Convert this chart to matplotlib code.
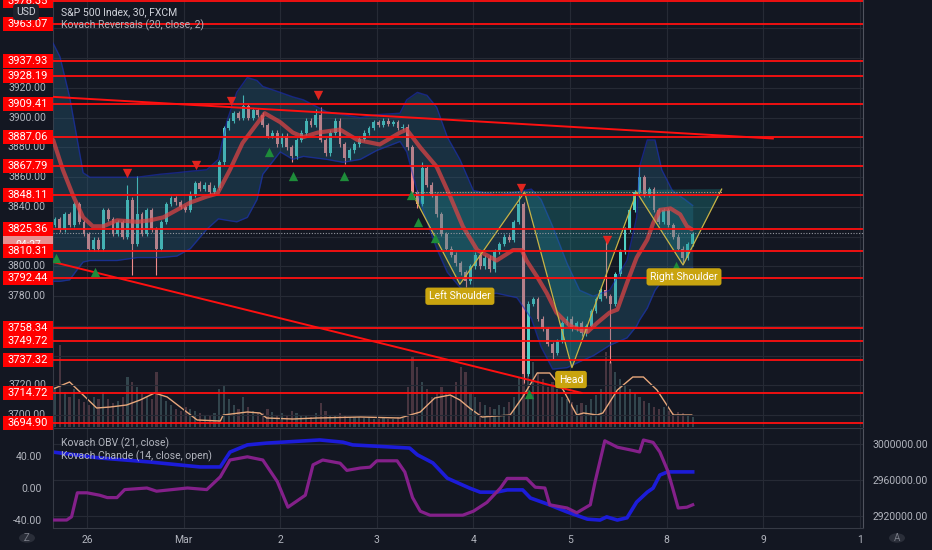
import numpy as np
import matplotlib

matplotlib.use("Agg")
import matplotlib.pyplot as plt
from matplotlib.patches import Rectangle, Circle
from matplotlib.transforms import blended_transform_factory

plt.rcParams["font.family"] = ["Roboto", "DejaVu Sans"]

# ---------------------------------------------------------------- data
# price bars: 20 bars per trading day, x in trading days (0 = Feb 26)
T0, DT = -0.331, 0.05
FIRST_OPEN = 3828
closes = [
    3832, 3825, 3835, 3828, 3842, 3830, 3822, 3812, 3818, 3812,
    3838, 3832, 3822, 3830, 3820, 3845, 3815, 3835, 3822, 3838,
    3825, 3812, 3830, 3842, 3846, 3843, 3840, 3838, 3848, 3856,
    3852, 3855, 3850, 3853, 3870, 3893, 3898, 3903, 3900, 3908,
    3900, 3905, 3902, 3895, 3888, 3890, 3882, 3888, 3880, 3874,
    3885, 3890, 3898, 3895, 3902, 3885, 3876, 3890, 3898, 3882,
    3873, 3878, 3882, 3886, 3890, 3893, 3897, 3895, 3898, 3896,
    3897, 3893, 3894, 3880, 3850, 3842, 3866, 3855, 3848, 3835,
    3822, 3812, 3808, 3802, 3796, 3790, 3800, 3808, 3800, 3806,
    3798, 3810, 3815, 3820, 3818, 3830, 3842, 3728, 3775, 3778,
    3765, 3758, 3748, 3742, 3750, 3762, 3765, 3758, 3762, 3755,
    3760, 3770, 3778, 3784, 3780, 3775, 3795, 3810, 3825, 3838,
    3850, 3860, 3848, 3852, 3838, 3830, 3838, 3828, 3820, 3812,
    3806, 3815, 3822,
]
wick_high = {15: 3855, 17: 3861, 28: 3851, 39: 3915, 54: 3906, 55: 3907,
             58: 3900, 76: 3870, 96: 3849, 114: 3818, 121: 3867}
wick_low = {16: 3794, 21: 3794, 49: 3870, 60: 3869, 75: 3839, 85: 3786,
            97: 3722, 103: 3738, 115: 3735, 130: 3802}
volume = [
    40, 82, 35, 30, 38, 28, 25, 22, 30, 28,
    35, 28, 24, 26, 30, 50, 45, 40, 34, 30,
    28, 55, 32, 26, 22, 18, 16, 20, 18, 16,
    14, 12, 12, 14, 38, 42, 28, 22, 18, 30,
    20, 16, 14, 14, 18, 15, 12, 14, 12, 16,
    14, 12, 12, 10, 14, 24, 16, 12, 12, 14,
    12, 10, 10, 10, 9, 10, 8, 8, 10, 8,
    8, 10, 9, 40, 70, 60, 45, 38, 30, 35,
    40, 35, 32, 45, 60, 55, 35, 30, 25, 22,
    20, 18, 22, 20, 25, 30, 50, 90, 80, 65,
    55, 48, 40, 45, 38, 30, 28, 25, 22, 24,
    22, 28, 32, 38, 75, 65, 55, 48, 42, 38,
    34, 30, 26, 24, 20, 18, 20, 16, 14, 15,
    14, 12, 10,
]
vol_ma_t = [-0.35, -0.28, -0.18, 0.10, 0.24, 0.41, 0.55, 0.70, 0.83, 1.14,
            1.38, 1.41, 1.66, 1.79, 1.86, 2.13, 2.38, 2.83, 3.24, 3.45,
            3.60, 3.76, 3.86, 3.96, 4.09, 4.38, 4.51, 4.66, 4.79, 4.93,
            5.07, 5.14, 5.28, 5.34, 5.49, 5.65, 5.76, 5.90, 6.07, 6.26]
vol_ma = [38, 41, 45, 19, 20, 22, 27, 34, 30, 7,
          6, 12, 15, 14, 9, 8, 9, 10, 9, 15,
          29, 32, 27, 19, 10, 12, 30, 54, 54, 37,
          12, 14, 12, 14, 37, 50, 50, 37, 12, 12]

ma_t = [-0.35, -0.25, -0.14, -0.04, 0.06, 0.17, 0.31, 0.52, 0.65, 0.79,
        0.93, 1.07, 1.24, 1.35, 1.48, 1.61, 1.76, 1.84, 2.00, 2.13,
        2.24, 2.39, 2.62, 2.80, 3.03, 3.24, 3.31, 3.45, 3.62, 3.76,
        3.89, 4.04, 4.24, 4.41, 4.50, 4.55, 4.66, 4.76, 4.86, 5.00,
        5.18, 5.28, 5.41, 5.49, 5.59, 5.69, 5.80, 5.86, 5.93, 6.04,
        6.14, 6.21, 6.26]
ma = [3885, 3865, 3847, 3833, 3827, 3827, 3831, 3830, 3831, 3833,
      3838, 3843, 3847, 3849, 3865, 3883, 3896, 3903, 3897, 3890,
      3887, 3890, 3892, 3885, 3882, 3890, 3892, 3880, 3867, 3847,
      3827, 3811, 3804, 3811, 3811, 3804, 3793, 3782, 3769, 3760,
      3756, 3762, 3769, 3771, 3789, 3806, 3818, 3829, 3838, 3839,
      3835, 3827, 3825]

band_t = [-0.35, -0.28, -0.18, -0.10, -0.04, 0.03, 0.31, 0.52, 0.76, 0.93,
          1.07, 1.24, 1.36, 1.45, 1.55, 1.66, 1.76, 1.82, 2.00, 2.13,
          2.24, 2.48, 2.65, 2.83, 3.00, 3.24, 3.31, 3.42, 3.52, 3.62,
          3.73, 3.86, 4.00, 4.24, 4.45, 4.60, 4.70, 4.82, 4.97, 5.10,
          5.24, 5.41, 5.59, 5.69, 5.72, 5.80, 5.88, 5.95, 6.06, 6.19,
          6.27]
band_up = [3950, 3941, 3914, 3885, 3863, 3860, 3860, 3860, 3862, 3863,
           3864, 3865, 3872, 3898, 3917, 3927, 3925, 3921, 3917, 3914,
           3912, 3904, 3902, 3900, 3902, 3903, 3912, 3917, 3915, 3907,
           3887, 3872, 3851, 3848, 3850, 3852, 3845, 3827, 3802, 3784,
           3780, 3784, 3804, 3833, 3867, 3885, 3885, 3865, 3851, 3845,
           3841]
band_lo = [3790, 3790, 3791, 3798, 3803, 3804, 3804, 3806, 3806, 3807,
           3812, 3825, 3832, 3831, 3830, 3833, 3845, 3862, 3877, 3872,
           3874, 3872, 3870, 3872, 3878, 3884, 3877, 3850, 3830, 3812,
           3796, 3786, 3781, 3782, 3779, 3765, 3746, 3731, 3732, 3736,
           3740, 3747, 3752, 3760, 3764, 3772, 3784, 3790, 3795, 3798,
           3799]

# Kovach Reversals markers
sell_t = [0.41, 1.13, 1.49, 2.39, 4.49, 5.38]
sell_p = [3863, 3868, 3911, 3915, 3853, 3818]
buy_t = [-0.32, 0.08, 1.88, 2.13, 2.66, 3.35, 3.43, 3.60, 4.58, 6.10]
buy_p = [3806, 3796, 3877, 3861, 3861, 3848, 3830, 3819, 3714, 3800]

# support / resistance levels
levels = [3978.35, 3963.07, 3937.93, 3928.19, 3909.41, 3887.06, 3867.79,
          3848.11, 3825.36, 3810.31, 3792.44, 3758.34, 3749.72, 3737.32,
          3714.72, 3694.90]
last_price = 3822.75
last_time = "04:27"

# trend lines
upper_trend_t, upper_trend_p = [-0.35, 7.10], [3914, 3886]
lower_trend_t, lower_trend_p = [-0.35, 5.12], [3803, 3715]

# head and shoulders
hs_t = [3.36, 3.86, 4.53, 5.02, 5.69, 6.17, 6.57]
hs_p = [3850, 3788, 3850, 3732, 3850, 3801, 3852]
hs_labels = [("Left Shoulder", 3.86, 3780), ("Head", 5.01, 3724),
             ("Right Shoulder", 6.18, 3793)]

# lower pane
chande_t = [-0.35, -0.21, -0.16, -0.10, 0.00, 0.13, 0.21, 0.31, 0.39, 0.62,
            0.72, 1.04, 1.24, 1.38, 1.48, 1.66, 1.82, 1.97, 2.08, 2.26,
            2.34, 2.44, 2.62, 2.69, 2.83, 2.93, 3.00, 3.21, 3.29, 3.37,
            3.45, 3.55, 3.89, 4.00, 4.14, 4.28, 4.35, 4.55, 4.64, 4.74,
            4.79, 4.97, 5.07, 5.21, 5.26, 5.36, 5.49, 5.65, 5.72, 5.76,
            5.86, 5.93, 6.01, 6.06, 6.12, 6.21, 6.27]
chande = [-40, -40, -36, -6, -6, -9, -12, -12, -2, 0,
          -4, 0, -2, 14, 35, 39, 35, 8, -24, -9,
          29, 35, 31, 22, 25, 26, 34, 34, 20, -12,
          -29, -34, -34, -29, -18, 0, 12, 12, 1, 0,
          -21, -25, -31, -21, 8, 59, 51, 47, 45, 60,
          57, 45, 22, 1, -25, -24, -21]
obv_t = [-0.35, 0.13, 0.65, 1.17, 1.38, 1.48, 1.66, 1.86, 2.41, 2.65,
         2.75, 3.34, 3.42, 3.58, 3.73, 3.96, 4.07, 4.24, 4.35, 4.51,
         4.59, 4.76, 4.97, 5.18, 5.31, 5.38, 5.49, 5.59, 5.69, 5.80,
         5.86, 5.93, 6.01, 6.27]
obv = [2991000, 2984500, 2980000, 2974500, 2974500, 2991000, 2999000, 3001000,
       3004500, 3002000, 2999000, 2995500, 2988000, 2979000, 2962000, 2951000,
       2946500, 2946500, 2949000, 2949000, 2940000, 2933500, 2924500, 2916500,
       2915500, 2919000, 2915500, 2918000, 2935500, 2946500, 2951000, 2965500,
       2969000, 2969000]

day_ticks = [0, 1, 2, 3, 4, 5, 6, 7, 8]
day_labels = ["26", "Mar", "2", "3", "4", "5", "8", "9", "1"]
price_ticks = list(range(3700, 3961, 20))
price_labels_shown = [3700, 3720, 3780, 3800, 3840, 3860, 3880, 3900, 3920]
chande_ticks = [-40, 0, 40]
obv_ticks = [2920000, 2960000, 3000000]

# ---------------------------------------------------------------- style
BG = "#131722"
GRID = "#262a35"
TXT = "#b2b5be"
RED = "#ff1010"
W, H = 932, 550
L, R = 53, 863


def fx(x):
    return x / W


def fy(y):
    return 1 - y / H


fig = plt.figure(figsize=(W / 100, H / 100), dpi=100, facecolor=BG)
pos_main = [fx(L), fy(427), (R - L) / W, 427 / H]
pos_lo = [fx(L), fy(528), (R - L) / W, 100 / H]
XLIM = (-0.352, 8.033)
YLIM = (3692.1, 3979.1)

# volume layer (drawn first, underneath the price pane)
vax = fig.add_axes(pos_main)
vax.set_xlim(*XLIM)
vax.set_ylim(0, 427)
vax.axis("off")

ax = fig.add_axes(pos_main, sharex=vax)
ax.patch.set_visible(False)
ax.set_xlim(*XLIM)
ax.set_ylim(*YLIM)
ax.set_yticks([])
ax.tick_params(axis="x", length=0, labelbottom=False)
for s in ("top", "bottom"):
    ax.spines[s].set_visible(False)
ax.spines["left"].set_color("#363a45")
ax.spines["right"].set_color("#50535e")

for p in price_ticks:
    ax.axhline(p, color=GRID, lw=0.8, zorder=0)
for d in day_ticks:
    ax.axvline(d, color=GRID, lw=0.8, zorder=0)

# candles
c = np.array(closes, float)
o = np.r_[FIRST_OPEN, c[:-1]]
t = T0 + DT * np.arange(len(c))
hi = np.maximum(o, c) + 1.5
lo = np.minimum(o, c) - 1.5
for k, v in wick_high.items():
    hi[k] = v
for k, v in wick_low.items():
    lo[k] = v
up = c >= o
cols = np.where(up, "#4fd1c5", "#f08a8a")
ax.vlines(t, lo, hi, colors=cols, lw=0.8, zorder=2)
ax.bar(t, np.maximum(np.abs(c - o), 0.8), bottom=np.minimum(o, c), width=DT * 0.6,
       color=cols, linewidth=0, zorder=2)

vcols = np.where(up, "#5a7f82", "#8a5a66")
vax.bar(t, volume, width=DT * 0.45, color=vcols, alpha=0.45, linewidth=0)
vax.plot(vol_ma_t, vol_ma, color="#e8a87c", lw=1.0)

# bands + basis
ax.fill_between(band_t, band_lo, band_up, color="#2a6a8a", alpha=0.3, lw=0, zorder=3)
ax.plot(band_t, band_up, color="#1a2fc0", lw=1.0, alpha=0.6, zorder=3.1)
ax.plot(band_t, band_lo, color="#1a2fc0", lw=1.0, alpha=0.6, zorder=3.1)

# head & shoulders
ax.fill(hs_t, hs_p, color="#1fa3a3", alpha=0.28, lw=0, zorder=3.5)
ax.plot(ma_t, ma, color="#e04444", lw=3.0, alpha=0.72, zorder=4, solid_capstyle="round")
ax.plot(hs_t, hs_p, color="#c8b446", lw=0.9, zorder=4.5)
ax.plot([hs_t[0], hs_t[-1]], [hs_p[0], hs_p[0]], color="#d09070", lw=0.8, ls=(0, (1, 1.5)),
        zorder=4.5)
for txt, tx, py in hs_labels:
    ax.text(tx, py, txt, ha="center", va="center", color="white", fontsize=7.5, zorder=7,
            bbox=dict(boxstyle="round,pad=0.35,rounding_size=0.25", fc="#c9a40f", ec="none"))

# levels, trend lines, last price
for p in levels:
    ax.axhline(p, color=RED, lw=1.3, zorder=5)
ax.plot(upper_trend_t, upper_trend_p, color=RED, lw=1.4, zorder=5)
ax.plot(lower_trend_t, lower_trend_p, color=RED, lw=1.4, zorder=5)
ax.axhline(last_price, color="#9598a1", lw=0.8, ls=(0, (1, 1.5)), zorder=5)

ax.scatter(sell_t, sell_p, marker="v", s=45, color="#e0251f", lw=0, zorder=6)
ax.scatter(buy_t, buy_p, marker="^", s=45, color="#1e8c3a", lw=0, zorder=6)

# left price scale
bt = blended_transform_factory(ax.transAxes, ax.transData)
ppx = (YLIM[1] - YLIM[0]) / 427.0  # price units per pixel
ax_w = R - L
for p in price_labels_shown:
    ax.text(-7 / ax_w, p, f"{p:.2f}", transform=bt, ha="right", va="center",
            color=TXT, fontsize=7.5, clip_on=False, zorder=8)
# last price tag (mostly hidden behind the level tags)
ax.add_patch(Rectangle((-50 / ax_w, last_price - 17 * ppx), 50 / ax_w, 24 * ppx,
                       transform=bt, fc="#e89090", ec="none", clip_on=False, zorder=9))
ax.text(-25 / ax_w, last_price - 12 * ppx, last_time, transform=bt, ha="center",
        va="center", color="white", fontsize=7.5, clip_on=False, zorder=9)
for p in levels:
    ax.add_patch(Rectangle((-50 / ax_w, p - 7 * ppx), 50 / ax_w, 14 * ppx, transform=bt,
                           fc="#ff0000", ec="none", clip_on=False, zorder=10))
    ax.text(-25 / ax_w, p, f"{p:.2f}", transform=bt, ha="center", va="center",
            color="white", fontsize=8, clip_on=False, zorder=11)

fig.text(fx(26), fy(12), "USD", ha="center", va="center", color="#d1d4dc", fontsize=7.5,
         bbox=dict(boxstyle="round,pad=0.3", fc="#1e222d", ec="none"), zorder=20)
fig.text(fx(61), fy(12), "S&P 500 Index, 30, FXCM", ha="left", va="center",
         color="#d1d4dc", fontsize=7.5)
fig.text(fx(61), fy(25), "Kovach Reversals (20, close, 2)", ha="left", va="center",
         color=TXT, fontsize=7.5)

# ---------------------------------------------------------------- lower pane
ax_obv = fig.add_axes(pos_lo)
ax_obv.set_facecolor(BG)
ax_obv.set_xlim(*XLIM)
ax_obv.set_ylim(2906667, 3017778)
ax_obv.yaxis.tick_right()
ax_obv.set_yticks(obv_ticks)
ax_obv.set_yticklabels([f"{v:.2f}" for v in obv_ticks])
ax_obv.set_xticks(day_ticks)
ax_obv.set_xticklabels(day_labels)
ax_obv.tick_params(length=0, colors=TXT, labelsize=7.5)
ax_obv.tick_params(axis="y", pad=7)
ax_obv.tick_params(axis="x", pad=5)
for s in ax_obv.spines.values():
    s.set_color("#363a45")
ax_obv.spines["right"].set_color("#50535e")
for v in obv_ticks:
    ax_obv.axhline(v, color=GRID, lw=0.8, zorder=0)
for d in day_ticks:
    ax_obv.axvline(d, color=GRID, lw=0.8, zorder=0)
ax_obv.plot(obv_t, obv, color="#1c1cd8", lw=2.6)

ax_ch = fig.add_axes(pos_lo, sharex=ax_obv)
ax_ch.patch.set_visible(False)
ax_ch.set_ylim(-50, 75)
ax_ch.set_yticks(chande_ticks)
ax_ch.set_yticklabels([f"{v:.2f}" for v in chande_ticks])
ax_ch.tick_params(length=0, colors=TXT, labelsize=7.5, labelbottom=False)
ax_ch.tick_params(axis="y", pad=8)
for s in ax_ch.spines.values():
    s.set_visible(False)
ax_ch.plot(chande_t, chande, color="#84208a", lw=2.3)

fig.text(fx(61), fy(443), "Kovach OBV (21, close)", ha="left", va="center",
         color=TXT, fontsize=7.5)
fig.text(fx(61), fy(456), "Kovach Chande (14, close, open)", ha="left", va="center",
         color=TXT, fontsize=7.5)

# scale-mode buttons
for bx, letter in ((27, "Z"), (897, "A")):
    fig.patches.append(Circle((fx(bx), fy(538)), 8 / W, transform=fig.transFigure,
                              fc="#2a2e39", ec="none"))
    fig.text(fx(bx), fy(538), letter, ha="center", va="center", color="#787b86", fontsize=7)

fig.savefig("out.png", dpi=100, facecolor=BG)
